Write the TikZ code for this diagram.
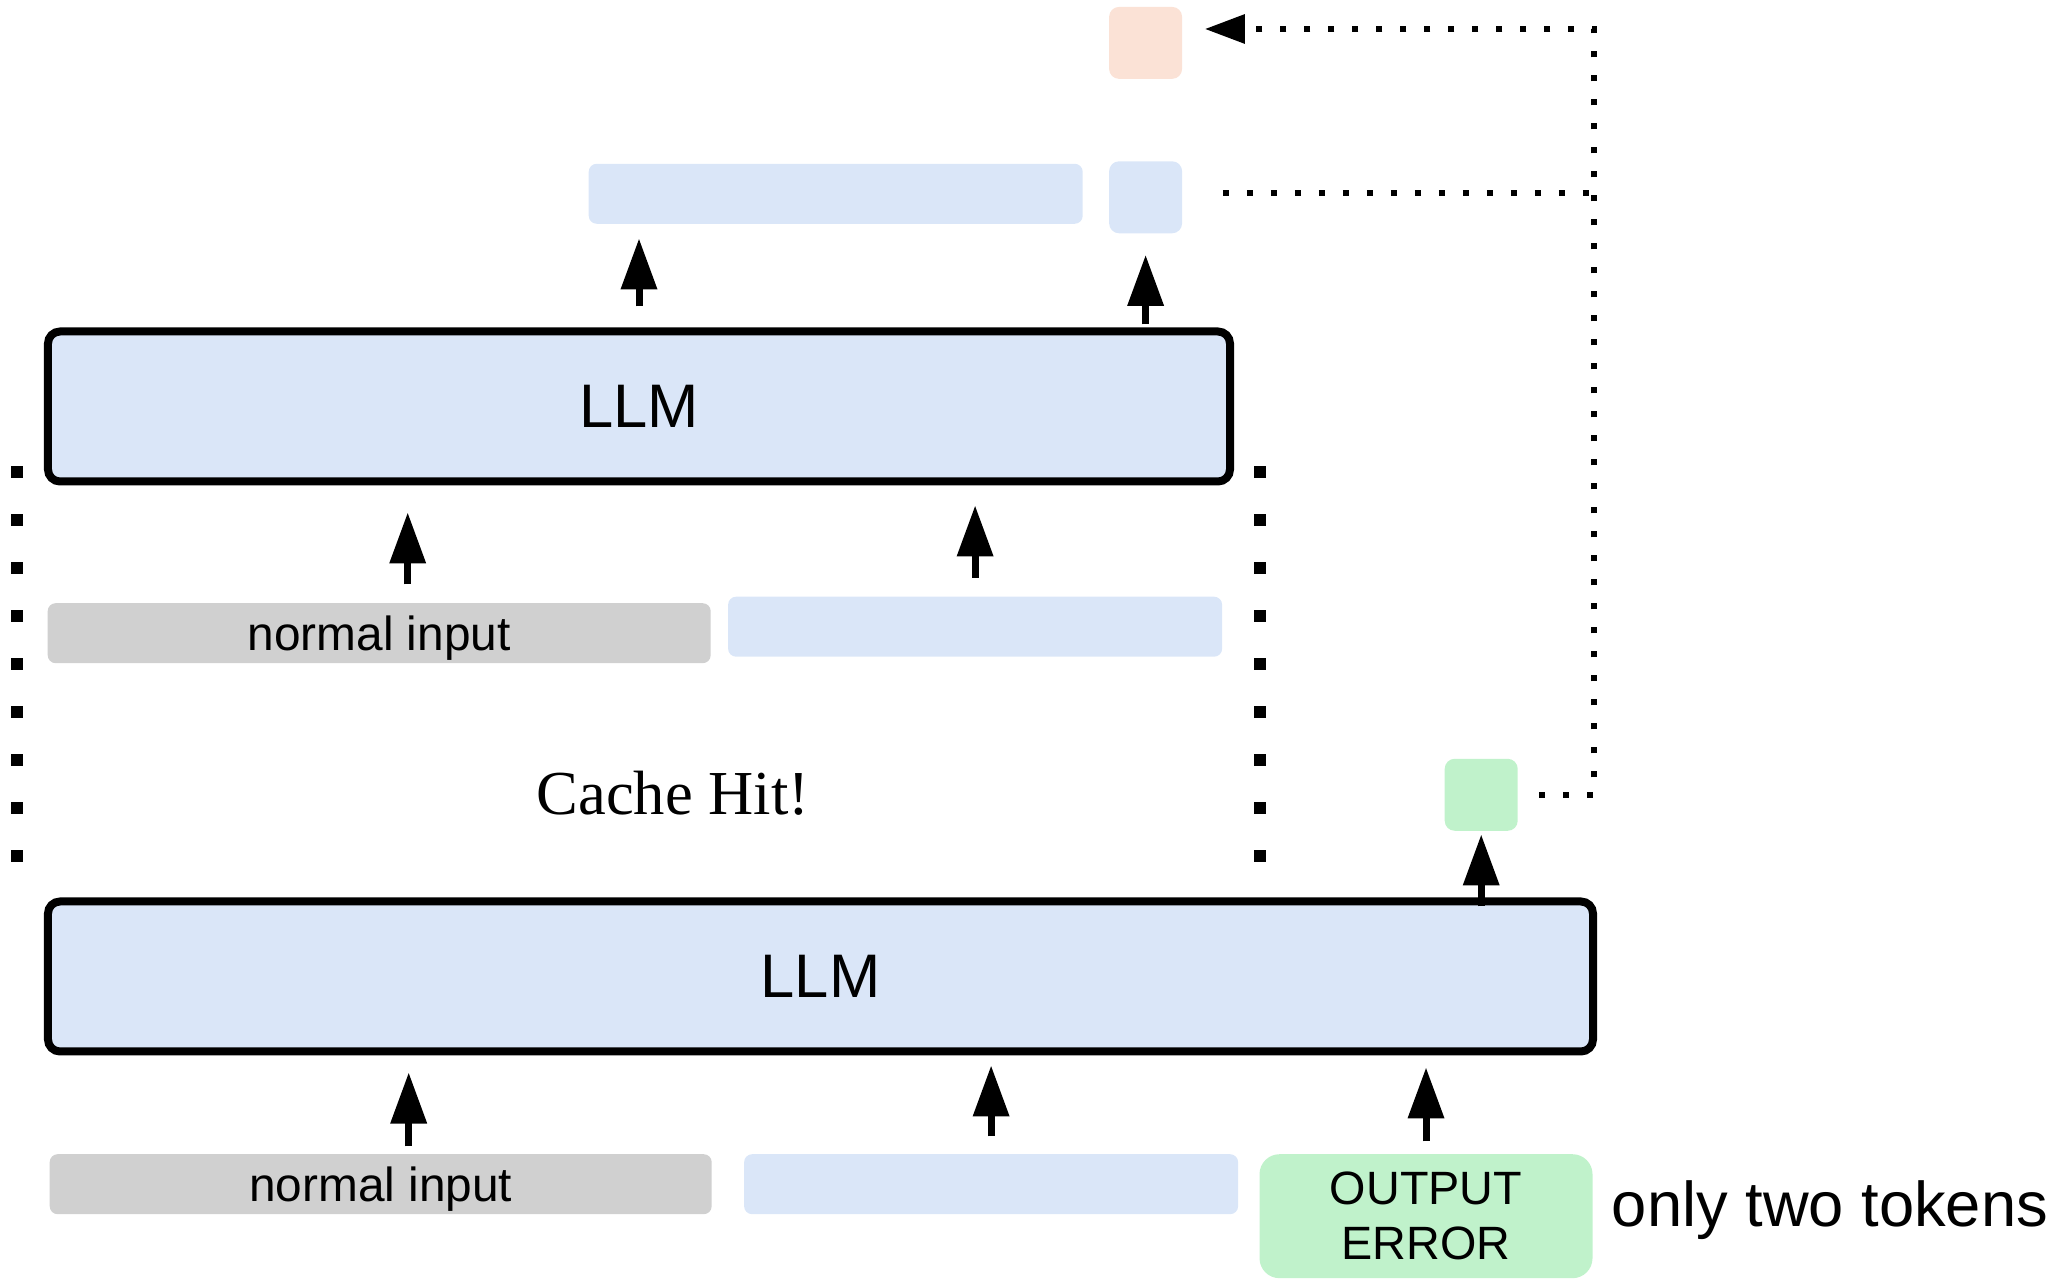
\documentclass[tikz,border=0pt]{standalone}
\usepackage{fontspec}
\setmainfont{Liberation Serif}
\setsansfont{Liberation Sans}
\usepackage{xcolor}
\definecolor{cBlue} {HTML}{DAE6F8}
\definecolor{cGray} {HTML}{D0D0D0}
\definecolor{cGreen}{HTML}{C0F2CB}
\definecolor{cPeach}{HTML}{FBE2D6}
\usepackage{tikz}
\usetikzlibrary{arrows.meta, positioning}
\tikzset{
  llm/.style  = {rectangle, draw=black, line width=0.8mm, rounded corners=1.2mm,
                 fill=cBlue, minimum width=#1, minimum height=15mm, inner sep=0pt,
                 font=\sffamily\fontsize{17.5}{21}\selectfont},
  bar/.style  = {rectangle, rounded corners=0.8mm, fill=cBlue, minimum width=#1,
                 minimum height=6mm, inner sep=0pt, text depth=0pt,
                 font=\sffamily\fontsize{13.6}{16}\selectfont},
  bar/.default = 49.4mm,
  tok/.style  = {rectangle, rounded corners=1mm, fill=cBlue,
                 minimum width=7.3mm, minimum height=7.2mm, inner sep=0pt},
  fatarr/.style   = {-{Triangle[length=5.1mm, width=3.5mm]}, line width=0.7mm},
  bigdot/.style   = {line width=1.2mm, dash pattern=on 1.2mm off 3.6mm},
  smalldot/.style = {line width=0.6mm, dash pattern=on 0.6mm off 1.8mm},
}

\begin{document}
\begin{tikzpicture}[x=1mm, y=1mm]
  \useasboundingbox (0,0) rectangle (206.1,-128.3);

  %% Lower pass
  \node[llm=154.5mm] (llmB) at (82.05,-97.65) {LLM};
  \node[bar=66.2mm, fill=cGray,
        below right=9.8mm and 0.5mm of llmB.south west] (inB1) {normal input};
  \node[bar, right=3.1mm of inB1] (inB2) {};
  \node[bar=33.3mm, fill=cGreen, minimum height=12.4mm, rounded corners=2mm,
        align=center, text depth=, font=\sffamily\fontsize{13.3}{15.6}\selectfont,
        below right=0mm and 2.0mm of inB2.north east] (err) {OUTPUT\\ERROR};
  \node[font=\sffamily\fontsize{18}{21}\selectfont, inner sep=0pt,
        right=1.8mm of err, yshift=0.65mm] (note) {only two tokens};
  \node[tok, fill=cGreen,
        above right=6.6mm and 140mm of llmB.north west] (nxt) {};

  %% Upper pass (cache hit)
  \node[llm=118.2mm, above right=41.2mm and 0mm of llmB.north west] (llmA) {LLM};
  \node[bar=66.3mm, fill=cGray,
        below right=11.7mm and 0.3mm of llmA.south west] (inA1) {normal input};
  \node[bar, right=1.6mm of inA1, yshift=0.65mm] (inA2) {};
  \node[bar, above right=10.3mm and 54.4mm of llmA.north west] (outA1) {};
  \node[tok, right=2.5mm of outA1, yshift=-0.35mm] (outA2) {};
  \node[tok, fill=cPeach, above=8.1mm of outA2] (prev) {};
  \node[font=\fontsize{17.8}{21}\selectfont] (hit) at (67.3,-79.3) {Cache Hit!};

  %% Arrows
  \draw[fatarr, shorten <=2.1mm, shorten >=1.4mm] (llmA.north) -- (llmA.north |- outA1.south);
  \draw[fatarr, shorten <=0.3mm, shorten >=2.1mm] (llmA.north -| outA2) -- (outA2.south);
  \draw[fatarr] ([xshift=2.85mm, yshift=1.8mm]inA1.north) -- ++(0,7.2);
  \draw[fatarr, shorten <=1.8mm, shorten >=2.0mm] (inA2.north) -- (inA2.north |- llmA.south);
  \draw[fatarr] ([xshift=2.8mm, yshift=0.7mm]inB1.north) -- ++(0,7.4);
  \draw[fatarr, shorten <=1.7mm, shorten >=1.0mm] (inB2.north) -- (inB2.north |- llmB.south);
  \draw[fatarr, shorten <=1.2mm, shorten >=1.2mm] (err.north) -- (err.north |- llmB.south);
  \draw[fatarr, shorten <=-0.9mm, shorten >=0.3mm] (llmB.north -| nxt) -- (nxt.south);

  %% Dotted links
  \coordinate (turn) at (159.4,-2.9);
  \draw[smalldot, -{Triangle[length=4mm, width=2.8mm]}, shorten <=2.1mm, shorten >=2.2mm]
        (nxt.east) -| (turn) -- (turn -| prev.east);
  \draw[smalldot, shorten <=4mm] ([yshift=0.4mm]outA2.east) -- ([yshift=0.4mm]outA2.east -| turn);
  \draw[bigdot] ([xshift=-2.65mm, yshift=1.9mm]llmA.south west) -- ++(0,-39.6);
  \draw[bigdot] ([xshift=2.6mm, yshift=1.9mm]llmA.south east) -- ++(0,-39.6);

\end{tikzpicture}
\end{document}
